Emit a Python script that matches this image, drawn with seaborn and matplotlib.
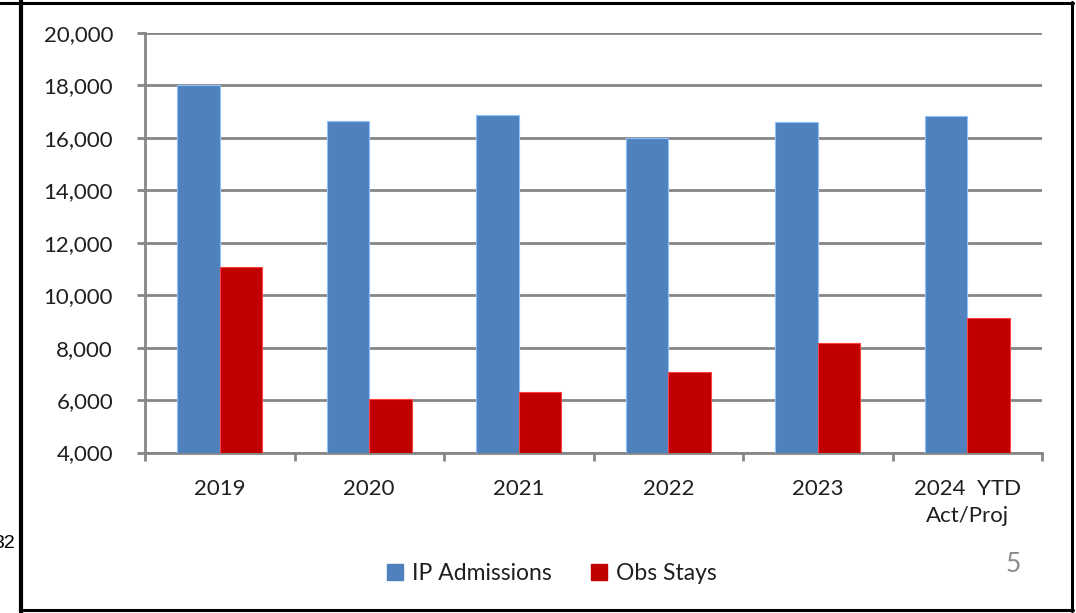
import matplotlib
matplotlib.use("Agg")
import matplotlib.pyplot as plt
from matplotlib.lines import Line2D
import seaborn as sns
import pandas as pd

# data
years = ["2019", "2020", "2021", "2022", "2023", "2024  YTD\nAct/Proj"]
ip_admissions = [18000, 16640, 16870, 16000, 16600, 16840]
obs_stays = [11080, 6030, 6320, 7080, 8160, 9130]
series_names = ["IP Admissions", "Obs Stays"]
y_ticks = [4000, 6000, 8000, 10000, 12000, 14000, 16000, 18000, 20000]

BLUE = "#4F81BD"
RED = "#C00000"
GRID = "#868686"
TEXT = "#1f1f1f"

df = pd.DataFrame({
    "year": years * 2,
    "value": ip_admissions + obs_stays,
    "series": [series_names[0]] * len(years) + [series_names[1]] * len(years),
})

sns.set_theme(style="white")
plt.rcParams["font.family"] = ["Lato", "DejaVu Sans"]

fig = plt.figure(figsize=(10.76, 6.13), dpi=100)
ax = fig.add_axes([145 / 1076, 1 - 452.5 / 613, (1042 - 145) / 1076, (452.5 - 33) / 613])

sns.barplot(data=df, x="year", y="value", hue="series", order=years,
            hue_order=series_names, palette=[BLUE, RED], width=0.567,
            gap=0, saturation=1, ax=ax, legend=False, zorder=3)

# faint lighter outline like the original
for bar in ax.patches:
    c = bar.get_facecolor()
    bar.set_edgecolor(tuple(min(1, v + 0.25) for v in c[:3]))
    bar.set_linewidth(0.8)

ax.set_ylim(4000, 20000)
ax.set_xlim(-0.5, len(years) - 0.5)
ax.set_yticks(y_ticks)
ax.set_yticklabels([f"{v:,}" for v in y_ticks])
ax.yaxis.grid(True, color=GRID, linewidth=2, zorder=0)
ax.set_axisbelow(True)
ax.set_xlabel("")
ax.set_ylabel("")

for side in ["top", "right"]:
    ax.spines[side].set_visible(False)
for side in ["left", "bottom"]:
    ax.spines[side].set_color(GRID)
    ax.spines[side].set_linewidth(2)

ax.tick_params(axis="y", direction="out", length=6, width=2, color=GRID,
               labelsize=16, labelcolor=TEXT, pad=17, left=True)
ax.tick_params(axis="x", which="major", length=0, labelsize=16,
               labelcolor=TEXT, pad=19)
for lbl in ax.get_xticklabels():
    lbl.set_linespacing(1.45)
ax.set_xticks([i - 0.5 for i in range(len(years) + 1)], minor=True)
ax.tick_params(axis="x", which="minor", direction="out", length=6, width=2,
               color=GRID, bottom=True)

handles = [plt.Rectangle((0, 0), 1, 1, color=BLUE),
           plt.Rectangle((0, 0), 1, 1, color=RED)]
fig.legend(handles, series_names, loc="center", bbox_to_anchor=(0.513, 0.064),
           ncol=2, frameon=False, fontsize=16.5, handlelength=0.7,
           handleheight=0.7, handletextpad=0.4, columnspacing=1.7,
           labelcolor=TEXT)

# page number and clipped side note
fig.text(1013 / 1076, 1 - 565 / 613, "5", fontsize=19, color="#8c8c8c",
         ha="center", va="center")
fig.text(15 / 1076, 1 - 544 / 613, "32", fontsize=14, color="black",
         ha="right", va="center", family=["Liberation Sans", "DejaVu Sans"])

# slide frame
fig.add_artist(Line2D([21 / 1076, 21 / 1076], [0, 1], color="black", lw=3))
fig.add_artist(Line2D([0, 1072.5 / 1076], [1 - 2.5 / 613, 1 - 2.5 / 613],
                      color="black", lw=2.2))
fig.add_artist(Line2D([1071.5 / 1076, 1071.5 / 1076], [1 - 611 / 613, 1 - 2 / 613],
                      color="black", lw=2.2))
fig.add_artist(Line2D([20 / 1076, 1072.5 / 1076], [1 - 610 / 613, 1 - 610 / 613],
                      color="black", lw=2.2))

fig.savefig("out.png", dpi=100)
